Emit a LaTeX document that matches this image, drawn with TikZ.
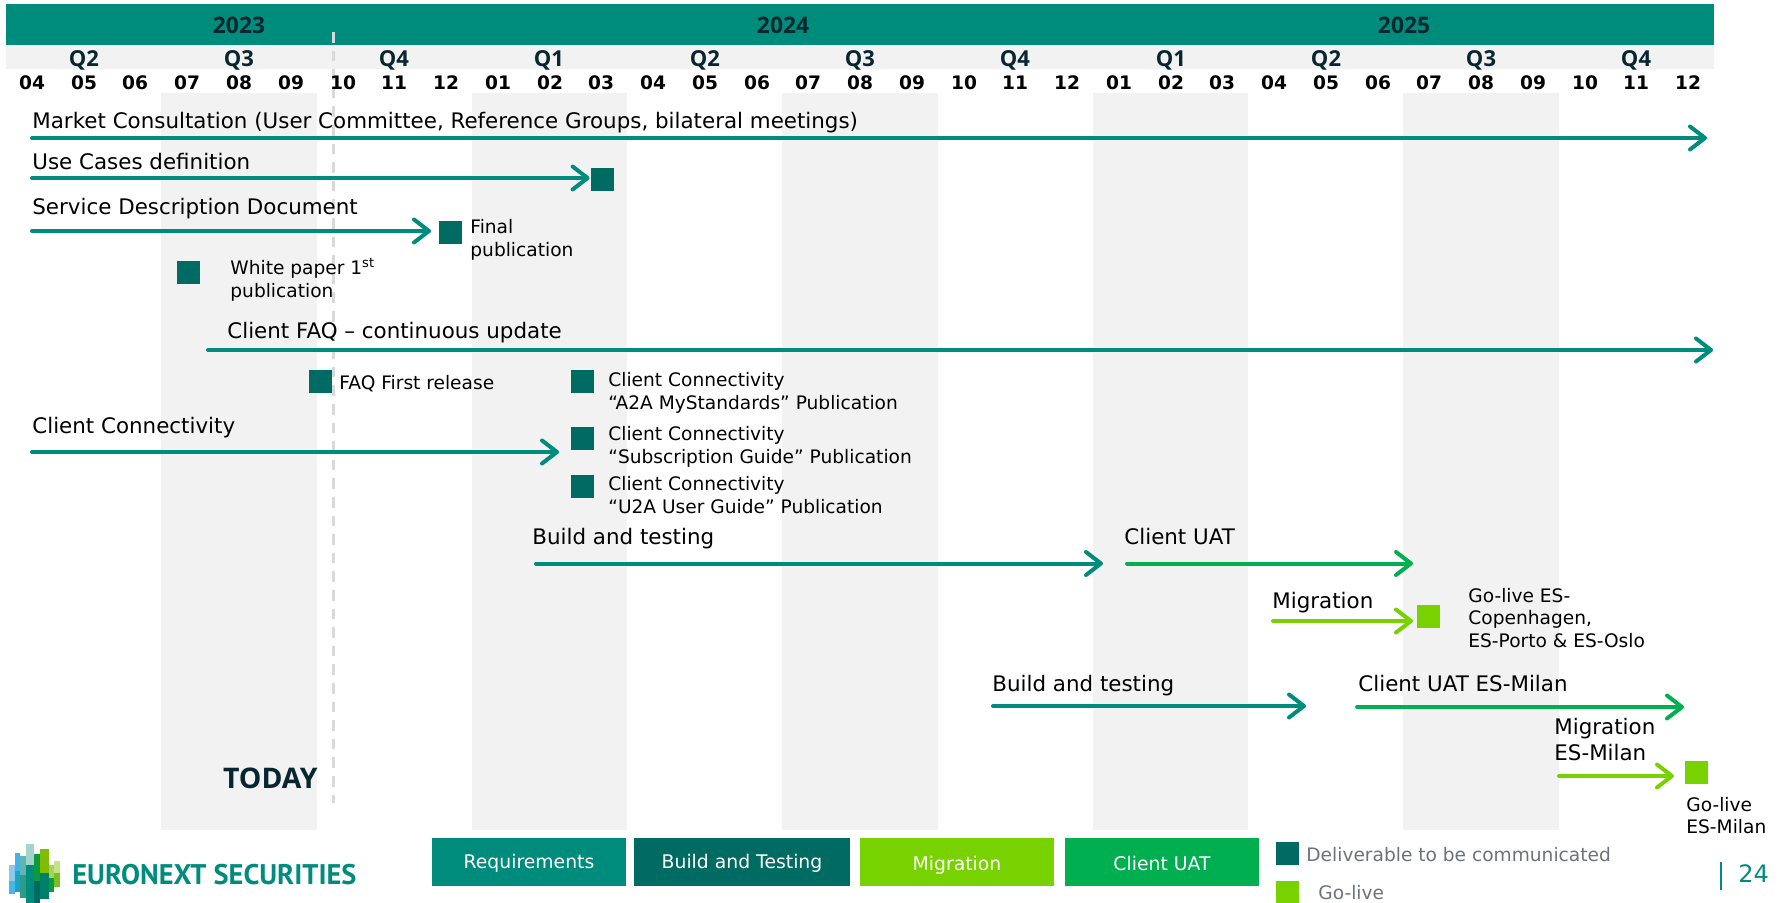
\documentclass[tikz,border=0pt]{standalone}
\usepackage{fontspec}
\setmainfont{DejaVu Sans}
\newfontfamily\headfont{Open Sans}
\newfontfamily\logofont{PT Sans}
\usetikzlibrary{arrows.meta, positioning}
\definecolor{enxteal}{RGB}{0,140,125}
\definecolor{enxdark}{RGB}{0,107,99}
\definecolor{enxlime}{RGB}{120,210,0}
\definecolor{enxgreen}{RGB}{0,175,80}
\definecolor{enxgrey}{RGB}{242,242,242}
\definecolor{enxtoday}{RGB}{217,217,217}
\definecolor{enxink}{RGB}{8,38,48}
\definecolor{enxlegend}{RGB}{109,114,120}
\definecolor{logoA}{HTML}{8EC8E8}
\definecolor{logoB}{HTML}{49B6E4}
\definecolor{logoC}{HTML}{42B4E6}
\definecolor{logoD}{HTML}{1AA5C8}
\definecolor{logoE}{HTML}{5FB5B0}
\definecolor{logoF}{HTML}{2D9A8A}
\definecolor{logoG}{HTML}{A2D4CD}
\definecolor{logoH}{HTML}{0A9B3C}
\definecolor{logoI}{HTML}{82BC00}
\definecolor{logoJ}{HTML}{007F6A}
\definecolor{logoK}{HTML}{A3D45C}
\definecolor{logoL}{HTML}{C5E38A}
\definecolor{logoM}{HTML}{78C020}
\tikzset{
    yearlbl/.style={inner sep=0pt, font=\headfont\bfseries\fontsize{11.4}{13}\selectfont, text=enxink},
    quarterlbl/.style={inner sep=0pt, font=\headfont\bfseries\fontsize{11}{12}\selectfont, text=enxink},
    monthlbl/.style={inner sep=0pt, font=\bfseries\fontsize{9.3}{11}\selectfont, text=black},
    biglbl/.style={anchor=base west, inner sep=0pt, font=\fontsize{10.7}{12.3}\selectfont},
    smalllbl/.style={anchor=west, inner sep=0pt, align=left, font=\fontsize{9.3}{11.3}\selectfont},
    onelbl/.style={anchor=base west, inner sep=0pt, font=\fontsize{9.3}{11.3}\selectfont},
    delivbox/.style={rectangle, inner sep=0pt, minimum size=11.5pt, fill=enxdark},
    golivebox/.style={rectangle, inner sep=0pt, minimum size=11.5pt, fill=enxlime},
    legendbox/.style={rectangle, inner sep=0pt, minimum width=97pt, minimum height=24pt, text height=8pt, text depth=2pt, text=white, font=\fontsize{9.4}{11}\selectfont},
    planarrow/.style={line width=2pt, line cap=round, -{Straight Barb[length=7.5pt,width=11.5pt,round]}},
}

\begin{document}
\begin{tikzpicture}[x=0.5pt, y=-0.5pt]
    \useasboundingbox (0,0) rectangle (1781,903);

    % Header bands
    \fill[enxgrey] (6,45) rectangle (1714,69);
    \fill[enxteal] (6,4) rectangle (1714,45);

    % Highlighted quarters
    \fill[enxgrey] (161,93) rectangle (317,830);
    \fill[enxgrey] (472,93) rectangle (627,830);
    \fill[enxgrey] (782,93) rectangle (938,830);
    \fill[enxgrey] (1093,93) rectangle (1248,830);
    \fill[enxgrey] (1403,93) rectangle (1559,830);

    % Today marker
    \coordinate (todayTop) at (333,32);
    \coordinate (todayBottom) at (333,803);
    \draw[enxtoday, line width=1.5pt, dash pattern=on 5.3pt off 4pt] (todayTop) -- (todayBottom);
    \node[inner sep=0pt, anchor=east, font=\headfont\bfseries\fontsize{14.2}{16}\selectfont, text=enxink] (today) at (318,778) {TODAY};

    % Years
    \node[yearlbl] (y2023) at (239,25) {2023};
    \node[yearlbl] (y2024) at (783,25) {2024};
    \node[yearlbl] (y2025) at (1404,25) {2025};

    % Quarters
    \node[quarterlbl] (q1) at (84,60) {Q2};
    \node[quarterlbl] (q2) at (239,60) {Q3};
    \node[quarterlbl] (q3) at (394,60) {Q4};
    \node[quarterlbl] (q4) at (549,60) {Q1};
    \node[quarterlbl] (q5) at (705,60) {Q2};
    \node[quarterlbl] (q6) at (860,60) {Q3};
    \node[quarterlbl] (q7) at (1015,60) {Q4};
    \node[quarterlbl] (q8) at (1171,60) {Q1};
    \node[quarterlbl] (q9) at (1326,60) {Q2};
    \node[quarterlbl] (q10) at (1481,60) {Q3};
    \node[quarterlbl] (q11) at (1636,60) {Q4};

    % Months
    \node[monthlbl] (m1) at (32,82.5) {04};
    \node[monthlbl] (m2) at (84,82.5) {05};
    \node[monthlbl] (m3) at (135,82.5) {06};
    \node[monthlbl] (m4) at (187,82.5) {07};
    \node[monthlbl] (m5) at (239,82.5) {08};
    \node[monthlbl] (m6) at (291,82.5) {09};
    \node[monthlbl] (m7) at (343,82.5) {10};
    \node[monthlbl] (m8) at (394,82.5) {11};
    \node[monthlbl] (m9) at (446,82.5) {12};
    \node[monthlbl] (m10) at (498,82.5) {01};
    \node[monthlbl] (m11) at (550,82.5) {02};
    \node[monthlbl] (m12) at (601,82.5) {03};
    \node[monthlbl] (m13) at (653,82.5) {04};
    \node[monthlbl] (m14) at (705,82.5) {05};
    \node[monthlbl] (m15) at (757,82.5) {06};
    \node[monthlbl] (m16) at (808,82.5) {07};
    \node[monthlbl] (m17) at (860,82.5) {08};
    \node[monthlbl] (m18) at (912,82.5) {09};
    \node[monthlbl] (m19) at (964,82.5) {10};
    \node[monthlbl] (m20) at (1015,82.5) {11};
    \node[monthlbl] (m21) at (1067,82.5) {12};
    \node[monthlbl] (m22) at (1119,82.5) {01};
    \node[monthlbl] (m23) at (1171,82.5) {02};
    \node[monthlbl] (m24) at (1222,82.5) {03};
    \node[monthlbl] (m25) at (1274,82.5) {04};
    \node[monthlbl] (m26) at (1326,82.5) {05};
    \node[monthlbl] (m27) at (1378,82.5) {06};
    \node[monthlbl] (m28) at (1429,82.5) {07};
    \node[monthlbl] (m29) at (1481,82.5) {08};
    \node[monthlbl] (m30) at (1533,82.5) {09};
    \node[monthlbl] (m31) at (1585,82.5) {10};
    \node[monthlbl] (m32) at (1636,82.5) {11};
    \node[monthlbl] (m33) at (1688,82.5) {12};

    % Market consultation
    \node[biglbl] (marketLbl) at (32,129) {Market Consultation (User Committee, Reference Groups, bilateral meetings)};
    \coordinate (marketStart) at (32,138);
    \coordinate (marketEnd) at (1707,138);
    \draw[planarrow, enxteal] (marketStart) -- (marketEnd);

    % Use cases
    \node[biglbl] (useLbl) at (32,170) {Use Cases definition};
    \coordinate (useStart) at (32,178);
    \node[delivbox] (useBox) at (602.5,179.5) {};
    \draw[planarrow, enxteal] (useStart) -- ([xshift=-0.5pt]useBox.west |- useStart);

    % Service description
    \node[biglbl] (serviceLbl) at (32,215) {Service Description Document};
    \coordinate (serviceStart) at (32,231);
    \coordinate (serviceEnd) at (431,231);
    \draw[planarrow, enxteal] (serviceStart) -- (serviceEnd);
    \node[delivbox] (serviceBox) at (450.5,232.5) {};
    \node[smalllbl] (serviceTxt) at (470,240) {Final\\publication};

    % White paper
    \node[delivbox] (paperBox) at (188.5,272.5) {};
    \node[smalllbl] (paperTxt) at (230,279.5) {White paper 1\textsuperscript{st}\\publication};

    % Client FAQ
    \node[biglbl] (faqLbl) at (227,339) {Client FAQ – continuous update};
    \coordinate (faqStart) at (208,350);
    \coordinate (faqEnd) at (1713,350);
    \draw[planarrow, enxteal] (faqStart) -- (faqEnd);
    \node[delivbox] (faqBox) at (320.5,381.5) {};
    \node[onelbl] (faqTxt) at (339,389) {FAQ First release};

    % Client connectivity
    \node[biglbl] (connLbl) at (32,433) {Client Connectivity};
    \coordinate (connStart) at (32,452);
    \coordinate (connEnd) at (559,452);
    \draw[planarrow, enxteal] (connStart) -- (connEnd);
    \node[delivbox] (a2aBox) at (582.5,381.5) {};
    \node[smalllbl] (a2aTxt) at (608,393) {Client Connectivity\\“A2A MyStandards” Publication};
    \node[delivbox] (subBox) at (582.5,438.5) {};
    \node[smalllbl] (subTxt) at (608,447) {Client Connectivity\\“Subscription Guide” Publication};
    \node[delivbox] (u2aBox) at (582.5,486.5) {};
    \node[smalllbl] (u2aTxt) at (608,495) {Client Connectivity\\“U2A User Guide” Publication};

    % First wave
    \node[biglbl] (buildLbl) at (532,544) {Build and testing};
    \coordinate (buildStart) at (536,563.5);
    \coordinate (buildEnd) at (1103,563.5);
    \draw[planarrow, enxteal] (buildStart) -- (buildEnd);
    \node[biglbl] (uatLbl) at (1124,544) {Client UAT};
    \coordinate (uatStart) at (1127,563.5);
    \coordinate (uatEnd) at (1413,563.5);
    \draw[planarrow, enxgreen] (uatStart) -- (uatEnd);
    \node[biglbl] (migLbl) at (1272,608) {Migration};
    \coordinate (migStart) at (1273,621);
    \coordinate (migEnd) at (1413,621);
    \draw[planarrow, enxlime] (migStart) -- (migEnd);
    \node[golivebox] (migBox) at (1428.5,616.5) {};
    \node[smalllbl] (migTxt) at (1468,618) {Go-live ES-\\Copenhagen,\\ES-Porto \& ES-Oslo};

    % Second wave
    \node[biglbl] (milanBuildLbl) at (992,691) {Build and testing};
    \coordinate (milanBuildStart) at (993,706);
    \coordinate (milanBuildEnd) at (1306,706);
    \draw[planarrow, enxteal] (milanBuildStart) -- (milanBuildEnd);
    \node[biglbl] (milanUatLbl) at (1358,691) {Client UAT ES-Milan};
    \coordinate (milanUatStart) at (1357,707);
    \coordinate (milanUatEnd) at (1684,707);
    \draw[planarrow, enxgreen] (milanUatStart) -- (milanUatEnd);
    \node[biglbl] (milanMigLbl) at (1554,734) {Migration};
    \node[biglbl] (milanMigLblB) at (1554,760) {ES-Milan};
    \coordinate (milanMigStart) at (1559,776);
    \coordinate (milanMigEnd) at (1674,776);
    \draw[planarrow, enxlime] (milanMigStart) -- (milanMigEnd);
    \node[golivebox] (milanBox) at (1696.5,772.5) {};
    \node[smalllbl] (milanTxt) at (1686,815.5) {Go-live\\ES-Milan};

    % Legend
    \node[legendbox, fill=enxteal] (legendReq) at (529,862) {Requirements};
    \node[legendbox, fill=enxdark, minimum width=108pt] (legendBuild) at (742,862) {Build and Testing};
    \node[legendbox, fill=enxlime, text depth=0pt] (legendMig) at (957,862) {Migration};
    \node[legendbox, fill=enxgreen, text depth=0pt] (legendUat) at (1162,862) {Client UAT};
    \node[delivbox] (legendDeliv) at (1287.5,853.5) {};
    \node[onelbl, text=enxlegend] (legendDelivTxt) at (1306,861) {Deliverable to be communicated};
    \node[golivebox] (legendGo) at (1287.5,892.5) {};
    \node[onelbl, text=enxlegend] (legendGoTxt) at (1318,899) {Go-live};

    % Logo
    \fill[logoA] (9,865) rectangle (14.5,881);
    \fill[logoB] (9,881) rectangle (14.5,894);
    \fill[logoC] (14.5,853) rectangle (20,871);
    \fill[logoD] (14.5,871) rectangle (20,892);
    \fill[logoE] (20,856) rectangle (26,875);
    \fill[logoF] (20,875) rectangle (26,898);
    \fill[logoG] (26,844) rectangle (34,865);
    \fill[enxteal] (26,865) rectangle (34,903);
    \fill[logoH] (34,854) rectangle (40,881);
    \fill[enxdark] (34,881) rectangle (40,903);
    \fill[logoI] (40,849) rectangle (49,873);
    \fill[logoJ] (40,873) rectangle (49,899);
    \fill[logoK] (49,865) rectangle (54,878);
    \fill[logoH] (49,878) rectangle (54,892);
    \fill[logoL] (54,861) rectangle (60,873);
    \fill[logoM] (54,873) rectangle (60,887);
    \node[inner sep=0pt, anchor=west, text=enxteal, font=\logofont\bfseries\fontsize{14.2}{16}\selectfont] (logoTxt) at (72,875) {EURONEXT SECURITIES};

    % Page number
    \coordinate (pageTop) at (1721,862);
    \coordinate (pageBottom) at (1721,890);
    \draw[enxteal, line width=0.6pt] (pageTop) -- (pageBottom);
    \node[inner sep=0pt, anchor=west, text=enxteal, font=\fontsize{12}{14}\selectfont] (pageNum) at (1738,874) {24};
\end{tikzpicture}
\end{document}
